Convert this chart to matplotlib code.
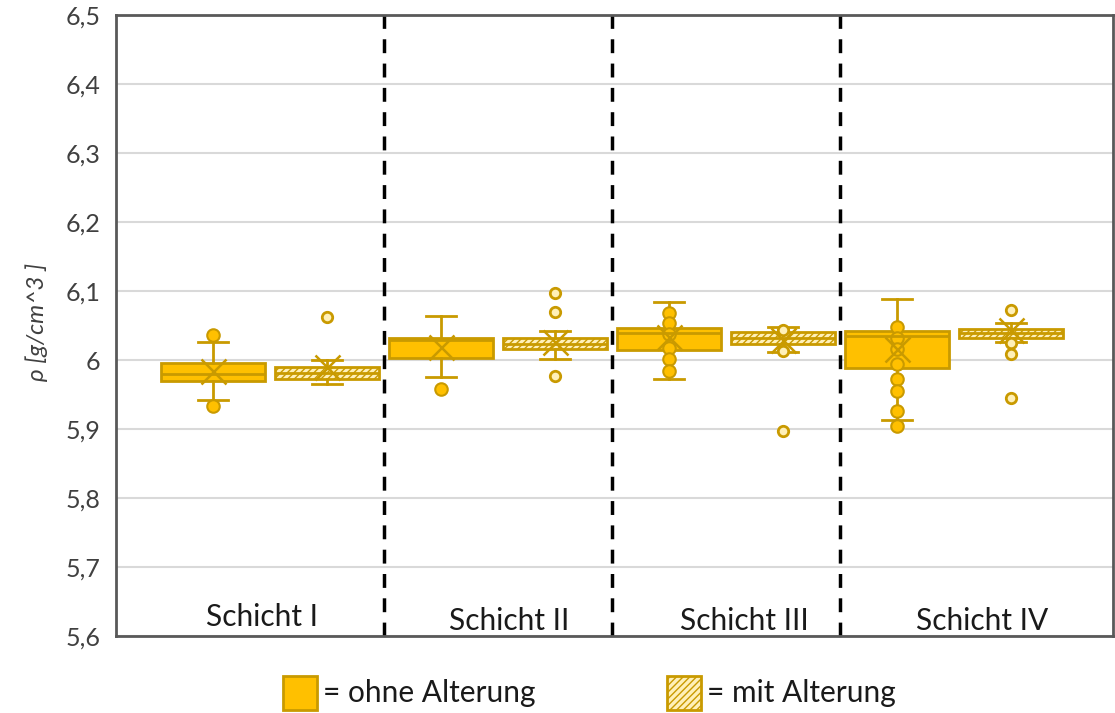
import matplotlib
matplotlib.use("Agg")
import matplotlib.pyplot as plt
from matplotlib.patches import Rectangle

plt.rcParams['font.family'] = ['Lato', 'DejaVu Sans']

# Layers and density statistics (g/cm^3)
layers = ["Schicht I", "Schicht II", "Schicht III", "Schicht IV"]

# without ageing
ohne_q1 = [5.970, 6.003, 6.014, 5.988]
ohne_med = [5.980, 6.029, 6.039, 6.035]
ohne_q3 = [5.996, 6.032, 6.046, 6.042]
ohne_lo = [5.942, 5.975, 5.972, 5.913]
ohne_hi = [6.026, 6.064, 6.084, 6.088]
ohne_mean = [5.984, 6.019, 6.033, 6.016]
ohne_points = [[6.036, 5.933],
               [5.958],
               [6.068, 6.054, 6.038, 6.017, 6.001, 5.984],
               [6.048, 6.032, 6.016, 5.994, 5.972, 5.955, 5.926, 5.904]]

# with ageing
mit_q1 = [5.972, 6.016, 6.023, 6.032]
mit_med = [5.981, 6.023, 6.032, 6.039]
mit_q3 = [5.990, 6.032, 6.041, 6.045]
mit_lo = [5.965, 6.001, 6.012, 6.026]
mit_hi = [6.000, 6.042, 6.048, 6.053]
mit_mean = [5.990, 6.026, 6.029, 6.043]
mit_points = [[6.062],
              [6.097, 6.070, 5.977],
              [6.043, 6.013, 5.897],
              [6.072, 6.025, 6.009, 5.945]]

yticks = [5.6, 5.7, 5.8, 5.9, 6.0, 6.1, 6.2, 6.3, 6.4, 6.5]
ytick_labels = ["5,6", "5,7", "5,8", "5,9", "6", "6,1", "6,2", "6,3", "6,4", "6,5"]

GOLD = "#FFC000"
EDGE = "#C99A00"
HATCH_FACE = "#FFF0B8"
DARK = "#595959"

fig = plt.figure(figsize=(11.15, 7.13), dpi=100)
ax = fig.add_axes([116 / 1115, 1 - 636 / 713, 997 / 1115, 621 / 713])


def stats(q1, med, q3, lo, hi, mean, pts):
    return [dict(q1=a, med=b, q3=c, whislo=d, whishi=e, mean=f, fliers=g)
            for a, b, c, d, e, f, g in zip(q1, med, q3, lo, hi, mean, pts)]


n = len(layers)
pos_ohne = [2 * i for i in range(n)]
pos_mit = [2 * i + 1 for i in range(n)]
width = 0.91

common = dict(widths=width, showmeans=True, patch_artist=True,
              whiskerprops=dict(color=EDGE, lw=2),
              capprops=dict(color=EDGE, lw=2),
              medianprops=dict(color=EDGE, lw=2),
              meanprops=dict(marker='x', markersize=18, markeredgecolor=EDGE,
                             markeredgewidth=1.8, linestyle='none'))

b1 = ax.bxp(stats(ohne_q1, ohne_med, ohne_q3, ohne_lo, ohne_hi, ohne_mean, ohne_points),
            positions=pos_ohne,
            boxprops=dict(facecolor=GOLD, edgecolor=EDGE, lw=2),
            flierprops=dict(marker='o', markersize=9, markerfacecolor=GOLD,
                            markeredgecolor=EDGE, markeredgewidth=1.5),
            **common)
b2 = ax.bxp(stats(mit_q1, mit_med, mit_q3, mit_lo, mit_hi, mit_mean, mit_points),
            positions=pos_mit,
            boxprops=dict(facecolor=HATCH_FACE, edgecolor=EDGE, lw=2, hatch='/////'),
            flierprops=dict(marker='o', markersize=7.5, markerfacecolor=HATCH_FACE,
                            markeredgecolor=EDGE, markeredgewidth=2),
            **common)
for c in b1['caps'] + b2['caps']:
    x = c.get_xdata()
    m = (x[0] + x[1]) / 2
    c.set_xdata([m - 0.13, m + 0.13])

ax.set_xlim(-0.85, 7.895)
ax.set_ylim(5.6, 6.5)
ax.set_yticks(yticks)
ax.set_yticklabels(ytick_labels, fontsize=18, color="#404040")
ax.set_xticks([])
ax.tick_params(axis='y', length=0, pad=11)
ax.yaxis.grid(True, color="#D9D9D9", lw=1.5)
ax.set_axisbelow(True)
for s in ax.spines.values():
    s.set_color(DARK)
    s.set_linewidth(2)

for xv in [1.5, 3.5, 5.5]:
    ax.axvline(xv, color="black", lw=2.5, linestyle=(0, (4, 3)), zorder=1)

label_x = [0.43, 2.60, 4.66, 6.75]
label_y = [5.628, 5.622, 5.622, 5.622]
for name, lx, ly in zip(layers, label_x, label_y):
    ax.text(lx, ly, name, ha='center', va='center', fontsize=21.5, color="#1a1a1a")

fig.text(37 / 1115, 1 - 322 / 713, "ρ [g/cm^3 ]", rotation=90, ha='center', va='center',
         fontsize=17.5, style='italic', color="#404040")

# legend below the plot
sq = 34
fig.patches.append(Rectangle((283 / 1115, 1 - 710 / 713), sq / 1115, sq / 713,
                             transform=fig.transFigure, facecolor=GOLD,
                             edgecolor=EDGE, lw=2))
fig.patches.append(Rectangle((667 / 1115, 1 - 710 / 713), sq / 1115, sq / 713,
                             transform=fig.transFigure, facecolor=HATCH_FACE,
                             edgecolor=EDGE, lw=2, hatch='/////'))
fig.text(323 / 1115, 1 - 693 / 713, "= ohne Alterung", ha='left', va='center',
         fontsize=21.5, color="#1a1a1a")
fig.text(707 / 1115, 1 - 693 / 713, "= mit Alterung", ha='left', va='center',
         fontsize=21.5, color="#1a1a1a")

fig.savefig("out.png", dpi=100)
